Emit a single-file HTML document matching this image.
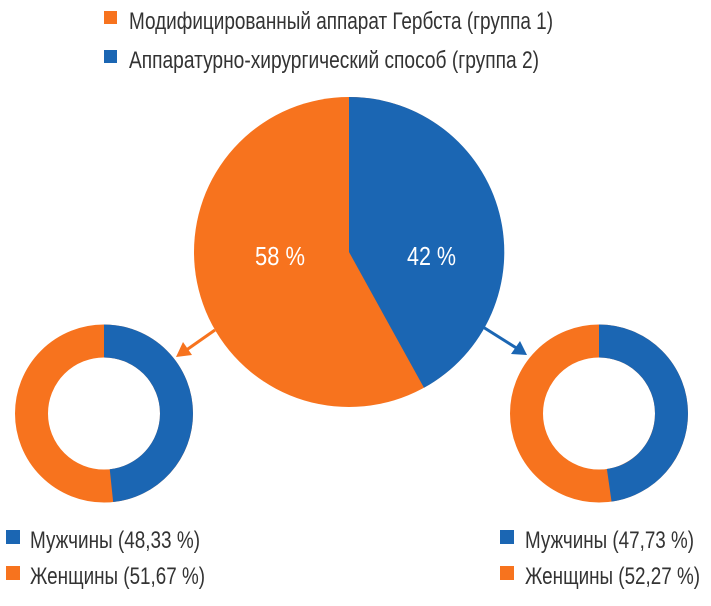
<!DOCTYPE html>
<html><head><meta charset="utf-8"><style>
body{margin:0;background:#fff;}
svg text{font-family:"Liberation Sans",sans-serif;fill:#333;}
</style></head><body>
<svg width="711" height="601" viewBox="0 0 711 601" xmlns="http://www.w3.org/2000/svg">
<rect x="104" y="11" width="13" height="13" fill="#F7731E"/>
<text x="129" y="29" font-size="24" textLength="424" lengthAdjust="spacingAndGlyphs">Модифицированный аппарат Гербста (группа 1)</text>
<rect x="104" y="50" width="13" height="13" fill="#1B66B3"/>
<text x="129" y="68" font-size="24" textLength="410" lengthAdjust="spacingAndGlyphs">Аппаратурно-хирургический способ (группа 2)</text>

<circle cx="349" cy="252" r="155" fill="#F7731E"/>
<path d="M349,252 L349,97 A155,155 0 0 1 424,387.8 Z" fill="#1B66B3"/>
<text x="255" y="265" font-size="26" textLength="50" lengthAdjust="spacingAndGlyphs" style="fill:#fff">58 %</text>
<text x="407" y="265" font-size="26" textLength="49" lengthAdjust="spacingAndGlyphs" style="fill:#fff">42 %</text>

<line x1="215" y1="330" x2="185" y2="351" stroke="#F7731E" stroke-width="3"/>
<polygon points="176,357 183,342 192,355" fill="#F7731E"/>
<line x1="483" y1="327" x2="518" y2="349" stroke="#1B66B3" stroke-width="3"/>
<polygon points="527,355 511,354 520,341" fill="#1B66B3"/>

<circle cx="104" cy="413.5" r="72.5" fill="none" stroke="#F7731E" stroke-width="33"/>
<circle cx="104" cy="413.5" r="72.5" fill="none" stroke="#1B66B3" stroke-width="33" stroke-dasharray="220.2 1000" transform="rotate(-90 104 413.5)"/>
<circle cx="599" cy="413.5" r="72.5" fill="none" stroke="#F7731E" stroke-width="33"/>
<circle cx="599" cy="413.5" r="72.5" fill="none" stroke="#1B66B3" stroke-width="33" stroke-dasharray="217.4 1000" transform="rotate(-90 599 413.5)"/>

<rect x="6" y="530" width="14" height="14" fill="#1B66B3"/>
<text x="30" y="548" font-size="24" textLength="170" lengthAdjust="spacingAndGlyphs">Мужчины (48,33 %)</text>
<rect x="6" y="566" width="14" height="14" fill="#F7731E"/>
<text x="30" y="584" font-size="24" textLength="175" lengthAdjust="spacingAndGlyphs">Женщины (51,67 %)</text>
<rect x="500" y="530" width="14" height="14" fill="#1B66B3"/>
<text x="525" y="548" font-size="24" textLength="169" lengthAdjust="spacingAndGlyphs">Мужчины (47,73 %)</text>
<rect x="500" y="566" width="14" height="14" fill="#F7731E"/>
<text x="525" y="584" font-size="24" textLength="175" lengthAdjust="spacingAndGlyphs">Женщины (52,27 %)</text>
</svg>
</body></html>
